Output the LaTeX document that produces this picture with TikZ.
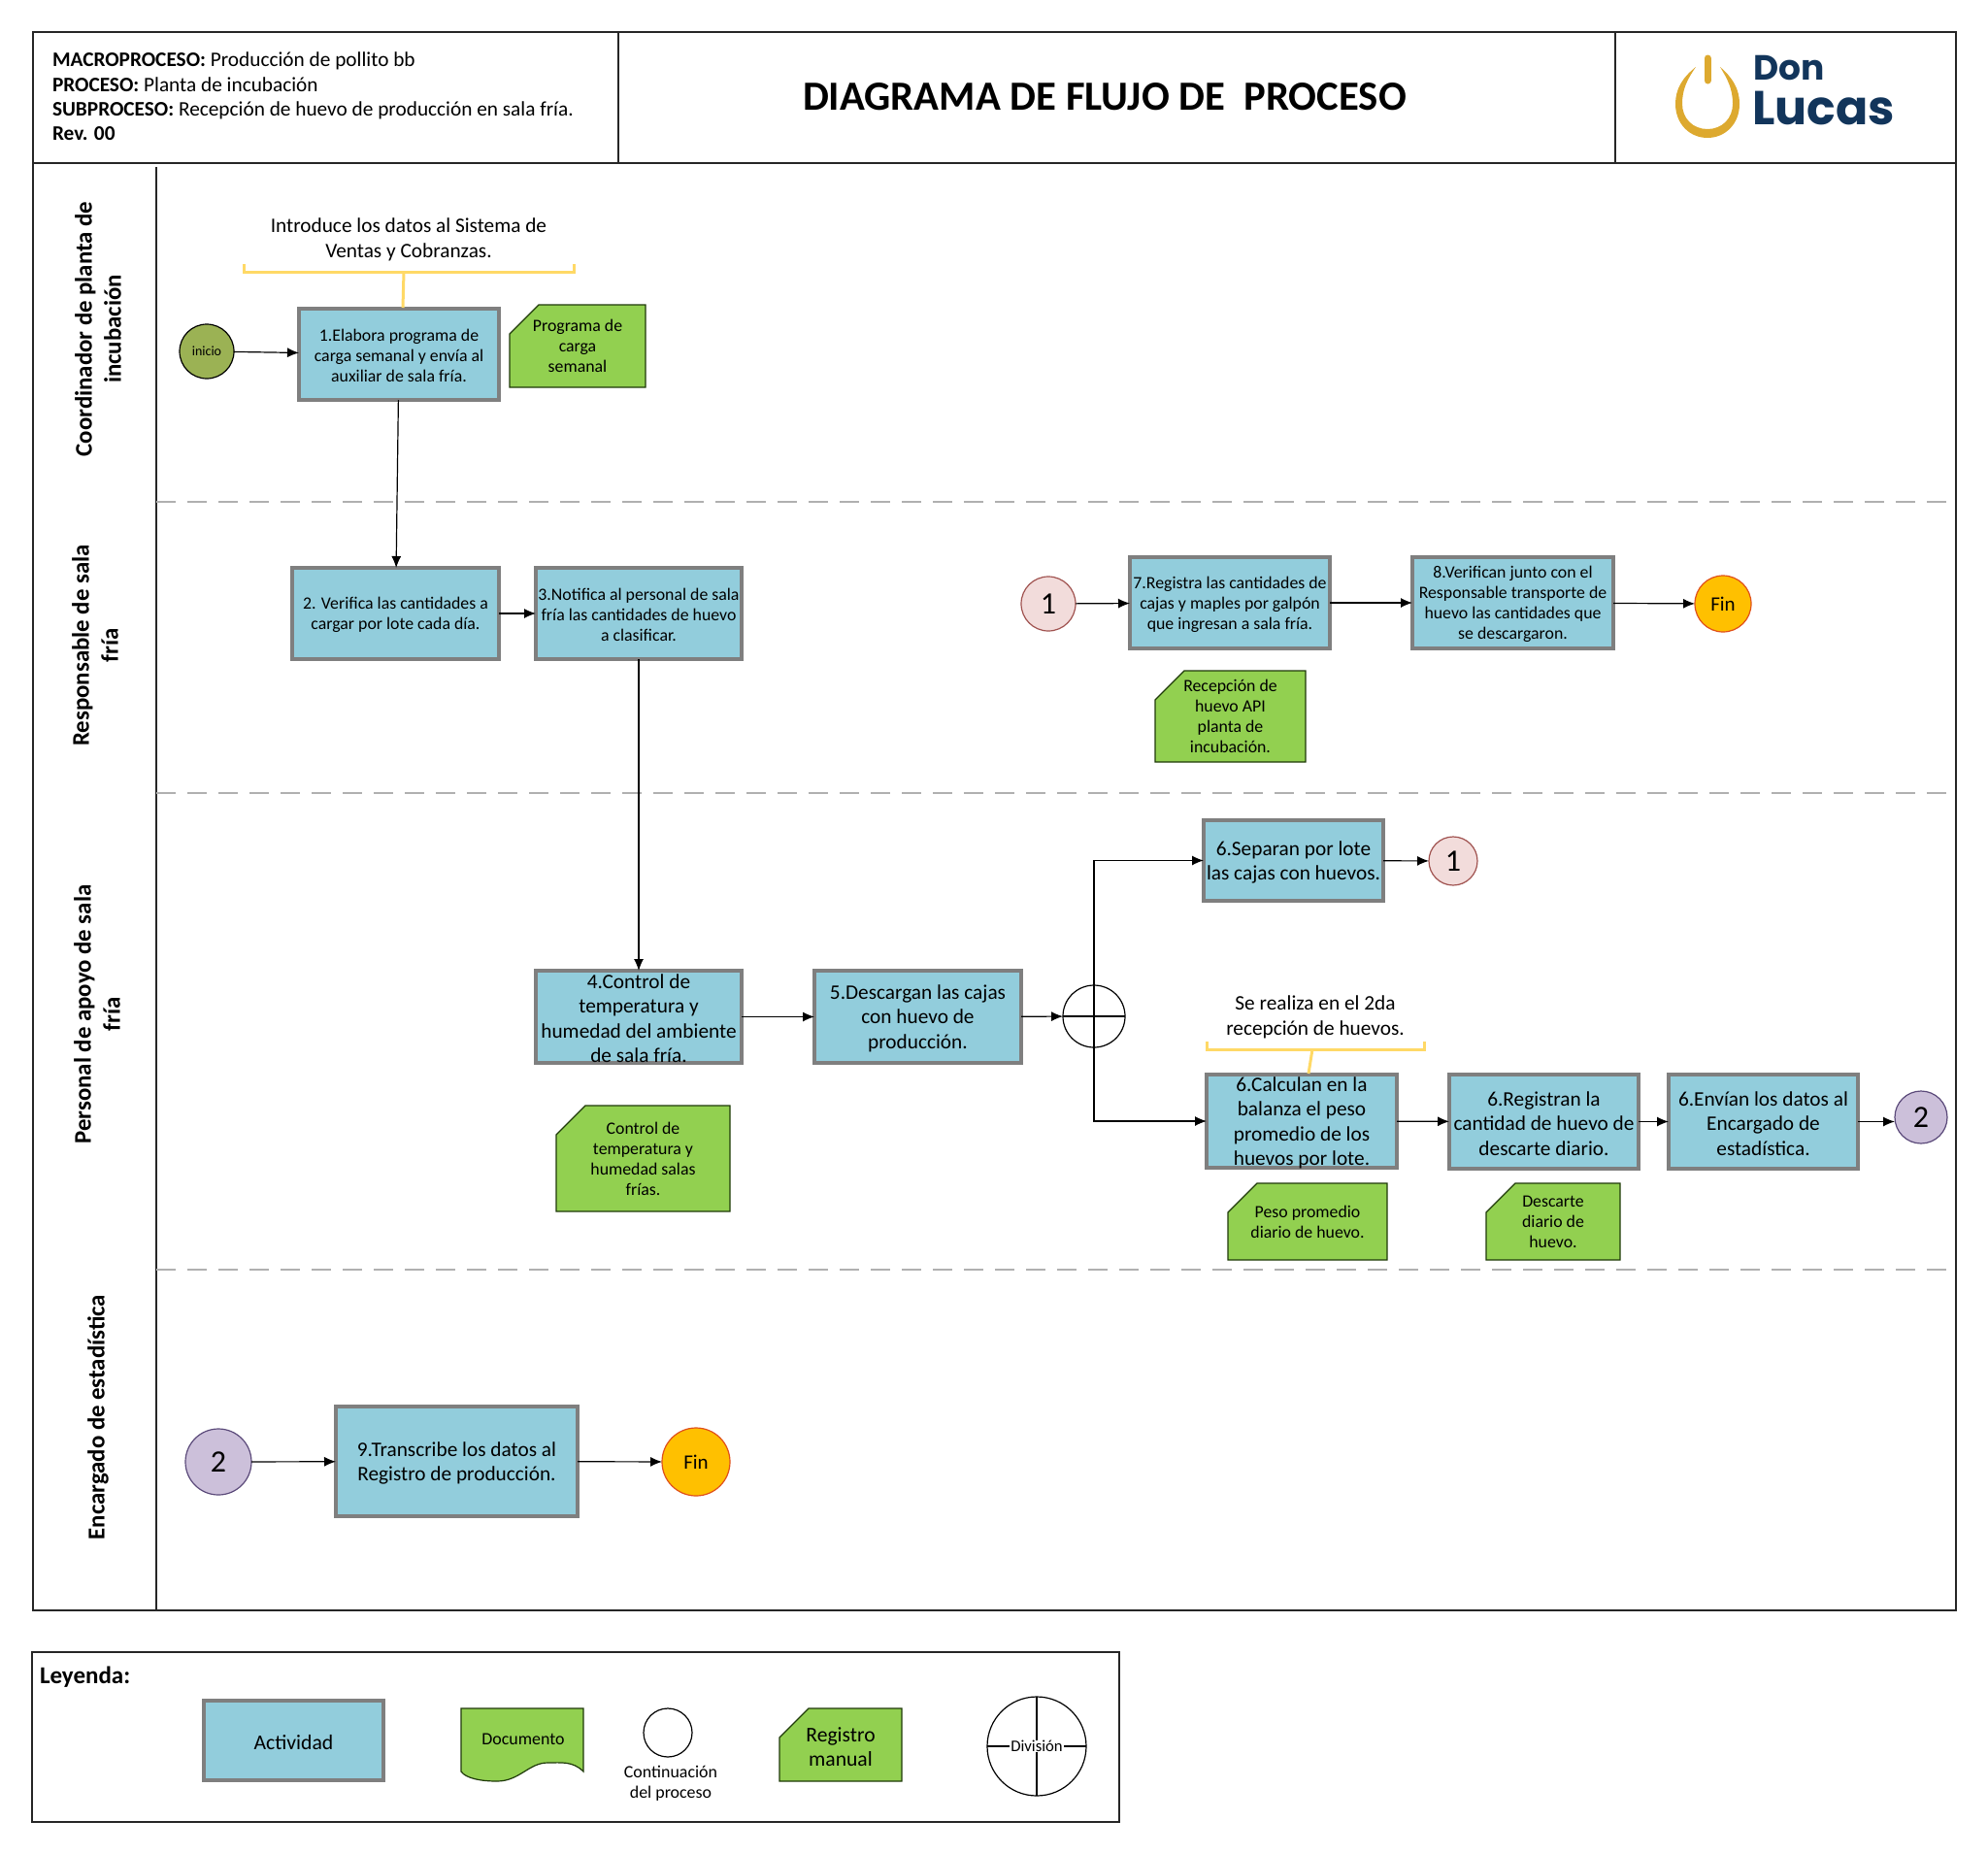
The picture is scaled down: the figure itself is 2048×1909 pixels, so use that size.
\documentclass[tikz,border=0pt]{standalone}
\usepackage{fontspec}
\setmainfont{Carlito}
\newfontfamily\logofont{Poppins}
\usetikzlibrary{arrows.meta}
\definecolor{actfill}{HTML}{92CDDC}
\definecolor{actline}{HTML}{7F7F7F}
\definecolor{notefill}{HTML}{92D050}
\definecolor{noteline}{HTML}{1F3A0A}
\definecolor{bracket}{HTML}{FFD966}
\definecolor{lanedash}{HTML}{B0B0B0}
\definecolor{startfill}{HTML}{9BB254}
\definecolor{pinkfill}{HTML}{F2DCDB}
\definecolor{pinkline}{HTML}{A0524F}
\definecolor{purplefill}{HTML}{CCC0DA}
\definecolor{purpleline}{HTML}{5B4A7A}
\definecolor{finfill}{HTML}{FFC000}
\definecolor{finline}{HTML}{E0501A}
\definecolor{logogold}{HTML}{DDA92F}
\definecolor{logoblue}{HTML}{12355B}
\tikzset{
  x=1pt,y=-1pt,
  every node/.style={inner sep=0pt,outer sep=0pt,align=center,text=black},
  fs/.style 2 args={font=\fontsize{#1}{#2}\selectfont},
  small text/.style={fs={17.8}{21}},
  big text/.style={fs={21.3}{25.5}},
  frame line/.style={draw=black!85,line width=1.5pt},
  conn/.style={draw=black,line width=1.2pt,-{Latex[length=12pt,width=10pt]}},
  lanesep/.style={draw=lanedash,line width=2pt,dash pattern=on 20pt off 12pt},
  lane/.style={rotate=90,font=\fontsize{24.8}{30}\selectfont\bfseries},
  actbox/.style={draw=actline,fill=actfill,line width=4pt},
  notebox/.style={draw=noteline,fill=notefill,line width=1.2pt},
  brk/.style={draw=bracket,line width=3pt},
  circ/.style={circle,draw=black,line width=1.2pt},
  numtext/.style={font=\fontsize{32}{32}\selectfont},
}
% name x1 y1 x2 y2 style text
\newcommand{\actnode}[7]{%
  \pgfmathsetmacro{\bw}{#4-#2-2}\pgfmathsetmacro{\bh}{#5-#3-2}%
  \pgfmathsetmacro{\cx}{(#2+#4)/2}\pgfmathsetmacro{\cy}{(#3+#5)/2}%
  \node[actbox,minimum width=\bw pt,minimum height=\bh pt] (#1) at (\cx,\cy) {};
  \node[#6,yshift=-1.8pt] (#1t) at (#1) {#7};}
\newcommand{\notenode}[7]{%
  \pgfmathsetmacro{\cx}{(#2+#4)/2}\pgfmathsetmacro{\cy}{(#3+#5)/2}%
  \path[notebox] (#2+30,#3) -- (#4,#3) -- (#4,#5) -- (#2,#5) -- (#2,#3+30) -- cycle;
  \node[#6] (#1) at (\cx,\cy) {#7};}
\begin{document}
\begin{tikzpicture}
\useasboundingbox (0,0) rectangle (2048,1909);
\fill[white] (0,0) rectangle (2048,1909);

% frame and header
\draw[frame line] (34,33) rectangle (2015,1659);
\draw[frame line] (34,168) -- (2015,168);
\draw[frame line] (637,33) -- (637,168);
\draw[frame line] (1664,33) -- (1664,168);
\draw[frame line] (161,172) -- (161,1659);
\node[anchor=west,align=left,font=\fontsize{21.3}{25.3}\selectfont] (hdr) at (54,99.5)
 {\textbf{MACROPROCESO:} Producción de pollito bb\\
  \textbf{PROCESO:} Planta de incubación\\
  \textbf{SUBPROCESO:} Recepción de huevo de producción en sala fría.\\
  \textbf{Rev. 00}};
\node[font=\fontsize{42.7}{48}\selectfont\bfseries] (title) at (1138,100) {DIAGRAMA DE FLUJO DE\ \ PROCESO};

% logo
\fill[logogold] (1747,69) .. controls (1733,80) and (1726,92) .. (1726,107)
  .. controls (1726,128) and (1741,142) .. (1759,142)
  .. controls (1777,142) and (1792,128) .. (1792,107)
  .. controls (1792,92) and (1785,80) .. (1772,69)
  .. controls (1780,82) and (1785,92) .. (1785,107)
  .. controls (1785,122) and (1774,133) .. (1759,133)
  .. controls (1744,133) and (1733,122) .. (1733,107)
  .. controls (1733,92) and (1738,82) .. (1747,69) -- cycle;
\draw[logogold,line width=7pt,line cap=round] (1759,60) -- (1759,83);
\node[anchor=base west,text=logoblue,font=\fontsize{36}{36}\selectfont\logofont\bfseries] (logoa) at (1806,82) {Don};
\node[anchor=base west,text=logoblue,font=\fontsize{49}{49}\selectfont\logofont\bfseries] (logob) at (1805,128) {Lucas};

% lanes
\draw[lanesep] (161,517) -- (2015,517);
\draw[lanesep] (161,817) -- (2015,817);
\draw[lanesep] (161,1308) -- (2015,1308);
\node[lane] (l1) at (101,339) {Coordinador de planta de\\incubación};
\node[lane] (l2) at (98,665) {Responsable de sala\\fría};
\node[lane] (l3) at (100,1045) {Personal de apoyo de sala\\fría};
\node[lane] (l4) at (101,1460) {Encargado de estadística};

% activities
\actnode{b1}{307}{317}{515}{413}{small text}{1.Elabora programa de\\carga semanal y envía al\\auxiliar de sala fría.}
\actnode{b2}{300}{584}{515}{680}{small text}{2. Verifica las cantidades a\\cargar por lote cada día.}
\actnode{b3}{551}{584}{765}{680}{small text}{3.Notifica al personal de sala\\fría las cantidades de huevo\\a clasificar.}
\actnode{b7}{1163}{573}{1371}{669}{small text}{7.Registra las cantidades de\\cajas y maples por galpón\\que ingresan a sala fría.}
\actnode{b8}{1454}{573}{1663}{669}{small text}{8.Verifican junto con el\\Responsable transporte de\\huevo las cantidades que\\se descargaron.}
\actnode{b6a}{1239}{844}{1426}{929}{big text}{6.Separan por lote\\las cajas con huevos.}
\actnode{b4}{551}{999}{765}{1096}{big text}{4.Control de\\temperatura y\\humedad del ambiente\\de sala fría.}
\actnode{b5}{838}{999}{1053}{1096}{big text}{5.Descargan las cajas\\con huevo de\\producción.}
\actnode{b6b}{1242}{1106}{1440}{1204}{big text}{6.Calculan en la\\balanza el peso\\promedio de los\\huevos por lote.}
\actnode{b6c}{1492}{1106}{1689}{1205}{big text}{6.Registran la\\cantidad de huevo de\\descarte diario.}
\actnode{b6d}{1718}{1106}{1915}{1205}{big text}{6.Envían los datos al\\Encargado de\\estadística.}
\actnode{b9}{345}{1448}{596}{1563}{big text}{9.Transcribe los datos al\\Registro de producción.}

% manual records
\notenode{n1}{525}{314}{665}{399}{small text}{Programa de\\carga\\semanal}
\notenode{n2}{1190}{691}{1345}{785}{small text}{Recepción de\\huevo API\\planta de\\incubación.}
\notenode{n3}{573}{1139}{752}{1248}{small text}{Control de\\temperatura y\\humedad salas\\frías.}
\notenode{n4}{1265}{1219}{1429}{1298}{small text}{Peso promedio\\diario de huevo.}
\notenode{n5}{1531}{1219}{1669}{1298}{small text}{Descarte\\diario de\\huevo.}

% continuation and terminal circles
\node[circ,fill=startfill,minimum size=56pt,font=\fontsize{14}{16}\selectfont] (ini) at (213,362) {inicio};
\node[circ,draw=pinkline,fill=pinkfill,minimum size=56pt,numtext] (c1a) at (1080,622) {1};
\node[circ,draw=finline,fill=finfill,minimum size=58pt,font=\fontsize{21}{24}\selectfont] (fin1) at (1775,622) {Fin};
\node[circ,draw=pinkline,fill=pinkfill,minimum size=50pt,numtext] (c1b) at (1497,887) {1};
\node[circ,draw=purpleline,fill=purplefill,minimum size=54pt,numtext] (c2a) at (1979,1151) {2};
\node[circ,draw=purpleline,fill=purplefill,minimum size=68pt,numtext] (c2b) at (225,1506) {2};
\node[circ,draw=finline,fill=finfill,minimum size=70pt,font=\fontsize{21}{24}\selectfont] (fin2) at (717,1506) {Fin};

% division gateway
\node[circ,minimum size=64pt] (plus) at (1127,1047) {};
\draw[line width=1.2pt] (plus.north) -- (plus.south);
\draw[line width=1.2pt] (plus.west) -- (plus.east);

% connectors
\draw[conn] (ini) -- (b1);
\draw[conn] (b1) -- (b2);
\draw[conn] (b2) -- (b3);
\draw[conn] (b3) -- (b4);
\draw[conn] (b4) -- (b5);
\draw[conn] (b5) -- (plus);
\draw[conn] (plus.north) |- (b6a.west);
\draw[conn] (plus.south) |- (b6b.west);
\draw[conn] (b6a) -- (c1b);
\draw[conn] (c1a) -- (b7);
\draw[conn] (b7) -- (b8);
\draw[conn] (b8) -- (fin1);
\draw[conn] (b6b) -- (b6c);
\draw[conn] (b6c) -- (b6d);
\draw[conn] (b6d.east) -- (c2a.west |- b6d.east);
\draw[conn] (c2b) -- (b9);
\draw[conn] (b9) -- (fin2);

% annotations
\node[fs={21.3}{26}] (a1) at (421,247) {Introduce los datos al Sistema de\\Ventas y Cobranzas.};
\coordinate (a1l) at (251,272); \coordinate (a1r) at (591,272);
\coordinate (a1m) at (416,280); \coordinate (a1t) at (415,317);
\draw[brk] (a1l) -- ++(0,8) -- ++(340,0) -- (a1r);
\draw[brk] (a1m) -- (a1t);
\node[fs={21.3}{26}] (a2) at (1355,1048) {Se realiza en el 2da\\recepción de huevos.};
\coordinate (a2l) at (1243,1073); \coordinate (a2r) at (1467,1073);
\coordinate (a2m) at (1352,1081); \coordinate (a2t) at (1348,1106);
\draw[brk] (a2l) -- ++(0,8) -- ++(224,0) -- (a2r);
\draw[brk] (a2m) -- (a2t);

% legend
\draw[frame line] (33,1702) rectangle (1153,1877);
\node[anchor=west,font=\fontsize{25}{28}\selectfont\bfseries] (leg) at (41,1727.5) {Leyenda:};
\actnode{lact}{209}{1751}{396}{1835}{fs={21.7}{24}}{Actividad}
\path[notebox] (475,1760) -- (601,1760) -- (601,1825)
  .. controls (590,1814) and (578,1816) .. (564,1816)
  .. controls (545,1816) and (535,1835) .. (512,1835)
  .. controls (495,1835) and (480,1832) .. (475,1825) -- cycle;
\node[fs={17.9}{20}] (ldoc) at (539,1791.5) {Documento};
\node[circ,minimum size=50pt] (lcirc) at (688,1785) {};
\node[fs={17.9}{21}] (lcont) at (691,1837.5) {Continuación\\del proceso};
\pgfmathsetmacro{\regy}{1}
\path[notebox] (833,1760) -- (929,1760) -- (929,1835) -- (803,1835) -- (803,1790) -- cycle;
\node[fs={21.6}{25}] (lreg) at (866,1799.5) {Registro\\manual};
\node[circ,minimum size=102pt] (ldiv) at (1068,1799) {};
\draw[line width=1.2pt] (ldiv.north) -- (ldiv.south);
\draw[line width=1.2pt] (ldiv.west) -- (ldiv.east);
\node[fill=white,inner xsep=1pt,fs={16.7}{19}] (ldivt) at (ldiv) {División};
\end{tikzpicture}
\end{document}
